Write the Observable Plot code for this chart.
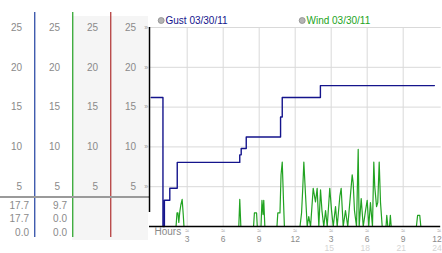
<!DOCTYPE html>
<html><head><meta charset="utf-8">
<script src="https://cdn.jsdelivr.net/npm/d3@7"></script>
<script src="https://cdn.jsdelivr.net/npm/@observablehq/plot@0.6"></script>
<style>
html,body{margin:0;padding:0;background:#fff;overflow:hidden;}
#wrap{position:relative;width:442px;height:253px;overflow:hidden;}
#wrap svg{position:absolute;top:0;left:0;}
</style></head><body><div id="wrap"></div>
<script>
// ---- data ----
const gustHours  = [0, 0.98, 1.1, 1.55, 2.17, 7.38, 7.5, 7.92, 10.78, 10.92, 14.1, 23.6];
const gustValues = [16.2, 0, 3.3, 4.8, 8.05, 9.0, 9.8, 11.25, 13.75, 16.2, 17.7, 17.7];

const windHours  = [0, 2.07, 2.15, 2.23, 2.3, 2.38, 2.47, 2.58, 2.67, 2.73,
  7.3, 7.38, 7.47, 8.53, 8.6, 8.78, 8.84, 9.15, 9.23, 9.32, 9.38, 9.47,
  10.48, 10.55, 10.73, 10.82, 10.92, 11.03, 11.1,
  12.4, 12.53, 12.63, 12.72, 12.86, 13.0, 13.13, 13.28, 13.5, 13.69, 13.83, 13.97,
  14.11, 14.23, 14.38, 14.53, 14.67, 14.88, 15.03, 15.17, 15.36, 15.5, 15.72, 15.83, 16.0,
  16.19, 16.38, 16.55, 16.75, 16.83, 16.94, 17.11, 17.25, 17.33, 17.5, 17.67, 17.86, 18.0,
  18.13, 18.27, 18.44, 18.55, 18.63, 18.78, 18.88, 19.0, 19.11, 19.25,
  19.57, 19.63, 19.72, 19.86, 19.93, 20.0, 22.1, 22.2, 22.38, 22.47, 23.95];
const windValues = [0, 0, 1.7, 1.7, 0.5, 1.8, 2.7, 3.4, 1.5, 0,
  0, 3.4, 0, 0, 1.7, 1.7, 0, 0, 3.3, 1.5, 3.3, 0,
  0, 1.7, 1.7, 6.5, 8.1, 3, 0,
  0, 1.7, 4.8, 8.1, 4, 0, 1.25, 0, 4.8, 3.1, 4.8, 0,
  4.6, 2, 0, 2, 0, 4.8, 2, 0, 2.5, 0, 3.8, 4.8, 0,
  2, 0, 3, 6.5, 5.5, 2, 0, 9.7, 0, 3.5, 0, 2, 3.3,
  0, 3, 0, 8.1, 5, 2.5, 3, 8.1, 3, 0,
  0, 1.4, 0, 0, 1.4, 0, 0, 1.4, 1.4, 0, 0];

const yTicks = [5, 10, 15, 20, 25];
const xTicks = [3, 6, 9, 12, 15, 18, 21, 24];
const xTickLabels  = ["3", "6", "9", "12", "3", "6", "9", "12"];
const xTickLabels2 = ["", "", "", "", "15", "18", "21", "24"];
const panelColumns = ["c1", "c2", "c3", "c4"];
const separatorColors = ["#2040a0", "#22a022", "#b03030"];
const gustStats = ["17.7", "17.7", "0.0"];
const windStats = ["9.7", "0.0", "0.0"];
const legendLabels = ["Gust 03/30/11", "Wind 03/30/11"];
const seriesColors = ["#14148c", "#22a322"];

// ---- build tables ----
const gust = gustHours.map((h, i) => ({h, v: gustValues[i]}));
const wind = windHours.map((h, i) => ({h, v: windValues[i]}));
const font = "'Liberation Sans', Arial, sans-serif";
const yScale = {domain: [0, 25], range: [226, 27], axis: null};
const lastIdx = xTicks.length - 1;

const left = Plot.plot({
  width: 149, height: 253, marginTop: 27, marginBottom: 27, marginLeft: 0, marginRight: 0,
  style: {fontFamily: font, fontSize: "10px", background: "transparent", overflow: "visible"},
  x: {type: "band", domain: panelColumns, range: [-5, 149], padding: 0, axis: null},
  y: yScale,
  marks: [
    Plot.cell(panelColumns.slice(2), {x: d => d, fill: "#f5f5f5", insetTop: -11, insetBottom: -14}),
    Plot.ruleX(panelColumns.slice(0, 3), {x: d => d, dx: 19.25, stroke: (d, i) => separatorColors[i], strokeWidth: 1.2, insetTop: -15, insetBottom: -11}),
    Plot.ruleY([0], {dy: -29.5, stroke: "#9a9a9a", strokeWidth: 2}),
    Plot.text(d3.cross(panelColumns, yTicks), {x: d => d[0], y: d => d[1], text: d => String(d[1]), textAnchor: "end", dx: 6.5, fill: "#8a8a8a"}),
    ...[0, 1, 2].map(r => Plot.text([["c1", gustStats[r]], ["c2", windStats[r]]], {
      x: d => d[0], text: d => d[1], frameAnchor: "bottom", lineAnchor: "middle", textAnchor: "end", dx: 13.5, dy: -21 + r * 13.7, fill: "#8a8a8a"
    }))
  ]
});

const main = Plot.plot({
  width: 442, height: 253, marginTop: 27, marginBottom: 27, marginLeft: 150.7, marginRight: 3.3,
  style: {fontFamily: font, fontSize: "10px", background: "transparent", overflow: "visible"},
  x: {domain: [0, 24], range: [150.7, 438.7], axis: null},
  y: yScale,
  marks: [
    Plot.ruleY(yTicks, {x1: 0, x2: 24, stroke: "#d9d9d9", insetLeft: -2, insetRight: -2}),
    Plot.ruleX(xTicks.slice(0, -1), {y1: 0, y2: 25, stroke: "#d9d9d9"}),
    Plot.line(wind, {x: "h", y: "v", stroke: seriesColors[1], strokeWidth: 1.2}),
    Plot.line(gust, {x: "h", y: "v", stroke: seriesColors[0], strokeWidth: 1.4, curve: "step-after"}),
    Plot.ruleY([0], {x1: 0, x2: 24, stroke: "#000", strokeWidth: 1.5, insetLeft: -1.7, insetRight: -1.5}),
    Plot.ruleX([0], {y1: 0, y2: 25, dx: -1.7, insetTop: -14, stroke: "#000", strokeWidth: 1.5}),
    Plot.text(yTicks, {x: 0, y: d => d, text: () => "»", dx: -5, fill: "#999", fontSize: 7}),
    Plot.text(xTicks, {x: d => d, y: 0, text: () => "≈", dy: 4, fill: "#999", fontSize: 7}),
    Plot.text(xTicks.slice(0, -1), {x: d => d, y: 0, text: (d, i) => xTickLabels[i], dy: 12.3, fill: "#8a8a8a", fontSize: 8.5}),
    Plot.text(xTicks.slice(0, -1), {x: d => d, y: 0, text: (d, i) => xTickLabels2[i], dx: -2, dy: 22, fill: "#d4d4d4", fontSize: 8.5}),
    Plot.text([xTicks[lastIdx]], {x: d => d, y: 0, text: () => xTickLabels[lastIdx], textAnchor: "end", dx: 2.5, dy: 12.3, fill: "#8a8a8a", fontSize: 8.5}),
    Plot.text([xTicks[lastIdx]], {x: d => d, y: 0, text: () => xTickLabels2[lastIdx], textAnchor: "end", dx: 2.5, dy: 22, fill: "#d4d4d4", fontSize: 8.5}),
    Plot.text(["Hours"], {frameAnchor: "bottom-left", lineAnchor: "middle", textAnchor: "start", dx: 3.3, dy: 5.7, fill: "#8a8a8a"}),
    Plot.dot([legendLabels[0]], {frameAnchor: "top-left", dx: 10, dy: -7, r: 3, fill: "#b4b4b4", stroke: "#8c8c8c", strokeWidth: 0.8}),
    Plot.text([legendLabels[0]], {frameAnchor: "top-left", lineAnchor: "middle", textAnchor: "start", text: d => d, dx: 14.3, dy: -7, fill: seriesColors[0]}),
    Plot.dot([legendLabels[1]], {frameAnchor: "top-left", dx: 151, dy: -7, r: 3, fill: "#b4b4b4", stroke: "#8c8c8c", strokeWidth: 0.8}),
    Plot.text([legendLabels[1]], {frameAnchor: "top-left", lineAnchor: "middle", textAnchor: "start", text: d => d, dx: 155.3, dy: -7, fill: seriesColors[1]})
  ]
});

const wrap = document.getElementById("wrap");
wrap.appendChild(left);
wrap.appendChild(main);
</script>
</body></html>
